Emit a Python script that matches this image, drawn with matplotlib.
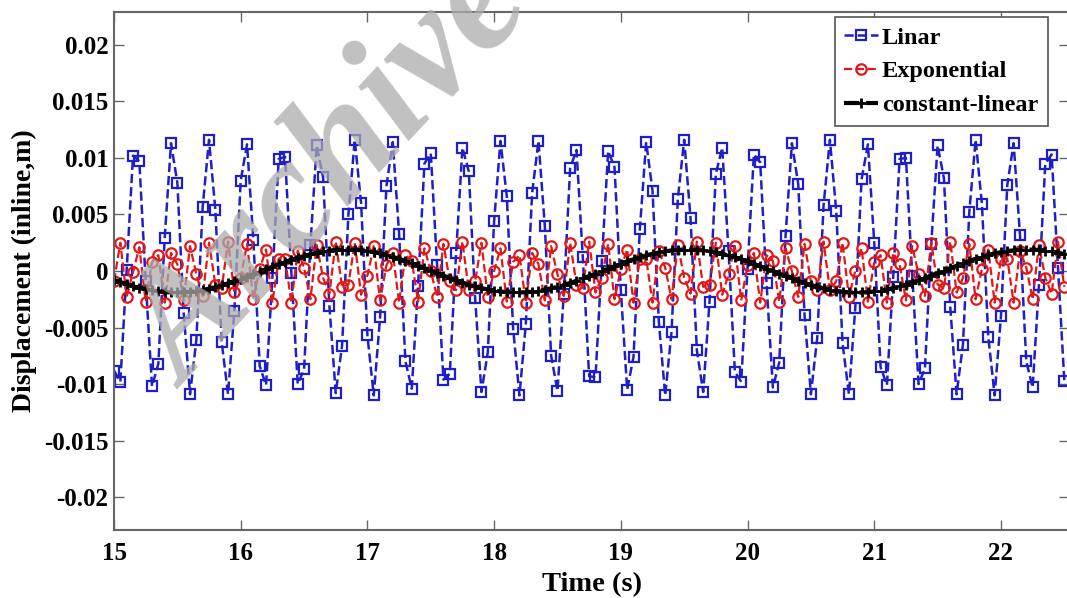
import matplotlib
matplotlib.use("Agg")
import matplotlib.pyplot as plt
import numpy as np

# sample times (s), one sample every 0.05 s from 15 s
t_start = 15.0
dt = 0.05

# Linar (blue), inline displacement (m)
linar = [
    -0.0088, -0.0098, 0.0001, 0.0102, 0.0097, -0.0009, -0.0102, -0.0082, 0.0029, 0.0113,
    0.0078, -0.0037, -0.0109, -0.0061, 0.0057, 0.0116, 0.0054, -0.0063, -0.0109, -0.0035,
    0.0080, 0.0112, 0.0027, -0.0084, -0.0101, -0.0006, 0.0099, 0.0101, -0.0002, -0.0100,
    -0.0087, 0.0023, 0.0111, 0.0083, -0.0031, -0.0108, -0.0066, 0.0050, 0.0116, 0.0060,
    -0.0057, -0.0110, -0.0041, 0.0075, 0.0114, 0.0033, -0.0080, -0.0104, -0.0013, 0.0095,
    0.0104, 0.0005, -0.0096, -0.0091, 0.0016, 0.0109, 0.0088, -0.0024, -0.0107, -0.0072,
    0.0044, 0.0115, 0.0066, -0.0051, -0.0110, -0.0047, 0.0069, 0.0115, 0.0040, -0.0075,
    -0.0106, -0.0020, 0.0091, 0.0107, 0.0012, -0.0093, -0.0094, 0.0009, 0.0106, 0.0092,
    -0.0017, -0.0105, -0.0076, 0.0037, 0.0114, 0.0071, -0.0045, -0.0110, -0.0054, 0.0064,
    0.0116, 0.0047, -0.0070, -0.0107, -0.0027, 0.0086, 0.0109, 0.0018, -0.0089, -0.0098,
    0.0002, 0.0103, 0.0096, -0.0011, -0.0103, -0.0081, 0.0031, 0.0113, 0.0077, -0.0039,
    -0.0109, -0.0059, 0.0058, 0.0116, 0.0053, -0.0064, -0.0109, -0.0033, 0.0081, 0.0112,
    0.0025, -0.0085, -0.0101, -0.0005, 0.0099, 0.0100, -0.0004, -0.0100, -0.0086, 0.0024,
    0.0111, 0.0082, -0.0032, -0.0109, -0.0065, 0.0052, 0.0116, 0.0059, -0.0058, -0.0110,
    -0.0040, 0.0076, 0.0113, 0.0032, -0.0080, -0.0103, -0.0012, 0.0095, 0.0103, 0.0003,
    -0.0097]

# Exponential (red)
expo = [
    -0.0009, 0.0025, -0.0023, -0.0001, 0.0021, -0.0027, 0.0008, 0.0014, -0.0028, 0.0016,
    0.0006, -0.0026, 0.0022, -0.0003, -0.0022, 0.0025, -0.0012, -0.0015, 0.0026, -0.0019,
    -0.0006, 0.0024, -0.0025, 0.0002, 0.0019, -0.0028, 0.0011, 0.0011, -0.0028, 0.0018,
    0.0003, -0.0025, 0.0023, -0.0006, -0.0020, 0.0026, -0.0014, -0.0012, 0.0025, -0.0021,
    -0.0004, 0.0022, -0.0026, 0.0005, 0.0016, -0.0028, 0.0014, 0.0009, -0.0027, 0.0020,
    0.0000, -0.0023, 0.0024, -0.0009, -0.0017, 0.0026, -0.0017, -0.0009, 0.0025, -0.0023,
    0.0000, 0.0020, -0.0027, 0.0008, 0.0014, -0.0028, 0.0016, 0.0006, -0.0026, 0.0022,
    -0.0003, -0.0022, 0.0025, -0.0012, -0.0015, 0.0026, -0.0019, -0.0006, 0.0024, -0.0025,
    0.0002, 0.0019, -0.0028, 0.0011, 0.0011, -0.0028, 0.0018, 0.0003, -0.0025, 0.0023,
    -0.0006, -0.0020, 0.0026, -0.0014, -0.0012, 0.0025, -0.0021, -0.0003, 0.0022, -0.0026,
    0.0005, 0.0016, -0.0028, 0.0014, 0.0009, -0.0027, 0.0020, 0.0000, -0.0023, 0.0024,
    -0.0009, -0.0017, 0.0026, -0.0017, -0.0009, 0.0025, -0.0023, 0.0000, 0.0020, -0.0027,
    0.0008, 0.0014, -0.0028, 0.0016, 0.0006, -0.0026, 0.0022, -0.0003, -0.0022, 0.0025,
    -0.0012, -0.0015, 0.0026, -0.0019, -0.0006, 0.0024, -0.0025, 0.0002, 0.0019, -0.0028,
    0.0011, 0.0011, -0.0028, 0.0018, 0.0003, -0.0025, 0.0023, -0.0006, -0.0020, 0.0026,
    -0.0014]

# constant-linear (black)
const_lin = [
    -0.00079, -0.00098, -0.00116, -0.00133, -0.00148, -0.00161, -0.00172, -0.00180, -0.00186, -0.00189,
    -0.00190, -0.00188, -0.00184, -0.00177, -0.00168, -0.00156, -0.00143, -0.00127, -0.00109, -0.00091,
    -0.00071, -0.00049, -0.00028, -0.00006, 0.00017, 0.00038, 0.00060, 0.00081, 0.00100, 0.00118,
    0.00135, 0.00149, 0.00162, 0.00173, 0.00181, 0.00186, 0.00189, 0.00190, 0.00188, 0.00183,
    0.00176, 0.00167, 0.00155, 0.00141, 0.00125, 0.00108, 0.00089, 0.00068, 0.00047, 0.00025,
    0.00003, -0.00019, -0.00040, -0.00062, -0.00083, -0.00102, -0.00120, -0.00136, -0.00151, -0.00163,
    -0.00173, -0.00181, -0.00187, -0.00190, -0.00190, -0.00188, -0.00183, -0.00175, -0.00165, -0.00153,
    -0.00139, -0.00124, -0.00106, -0.00087, -0.00066, -0.00045, -0.00023, -0.00001, 0.00021, 0.00043,
    0.00064, 0.00085, 0.00104, 0.00121, 0.00138, 0.00152, 0.00164, 0.00174, 0.00182, 0.00187,
    0.00190, 0.00190, 0.00187, 0.00182, 0.00174, 0.00164, 0.00152, 0.00138, 0.00121, 0.00104,
    0.00085, 0.00064, 0.00043, 0.00021, -0.00001, -0.00023, -0.00045, -0.00066, -0.00087, -0.00106,
    -0.00124, -0.00139, -0.00153, -0.00165, -0.00175, -0.00183, -0.00188, -0.00190, -0.00190, -0.00187,
    -0.00181, -0.00173, -0.00163, -0.00151, -0.00136, -0.00120, -0.00102, -0.00083, -0.00062, -0.00040,
    -0.00019, 0.00003, 0.00025, 0.00047, 0.00068, 0.00089, 0.00108, 0.00125, 0.00141, 0.00155,
    0.00167, 0.00176, 0.00183, 0.00188, 0.00190, 0.00189, 0.00186, 0.00181, 0.00173, 0.00162,
    0.00150]

x_ticks = [15, 16, 17, 18, 19, 20, 21, 22]
y_ticks = [-0.02, -0.015, -0.01, -0.005, 0, 0.005, 0.01, 0.015, 0.02]
y_ticklabels = ['-0.02', '-0.015', '-0.01', '-0.005', '0', '0.005', '0.01', '0.015', '0.02']

plt.rcParams['font.family'] = ['Liberation Serif', 'DejaVu Serif']
plt.rcParams['font.weight'] = 'bold'

time = t_start + dt * np.arange(len(linar))

fig = plt.figure(figsize=(10.67, 5.98), dpi=100)
ax = fig.add_axes([114/1067, 68/598, 955/1067, 518/598])

ax.plot(time, linar, '--', color='#1f1fc8', lw=1.8, marker='s', ms=7,
        mfc='none', mec='#1f1fc8', mew=1.6, label='Linar')
ax.plot(time, expo, '--', color='#e01818', lw=1.6, marker='o', ms=7.5,
        mfc='none', mec='#e01818', mew=1.6, label='Exponential')
ax.plot(time, const_lin, '--', color='black', lw=3.0, marker='+', ms=7,
        mew=2.0, label='constant-linear')

ax.set_xlim(15, 22.537)
ax.set_ylim(-0.0229, 0.0229)
ax.set_xticks(x_ticks)
ax.set_yticks(y_ticks)
ax.set_yticklabels(y_ticklabels)
ax.tick_params(direction='in', top=True, right=True, length=7, width=1,
               color='#666666', labelsize=18)
ax.tick_params(axis='x', pad=9)
ax.tick_params(axis='y', pad=4)
for lab in ax.get_xticklabels() + ax.get_yticklabels():
    lab.set_fontweight('bold')
for sp in ax.spines.values():
    sp.set_color('#666666')
    sp.set_linewidth(1.5)

ax.set_xlabel('Time (s)', fontsize=20.5, fontweight='bold', labelpad=5)
ax.set_ylabel('Displacement (inline,m)', fontsize=20, fontweight='bold', labelpad=5)

leg = ax.legend(loc='upper right', bbox_to_anchor=((1048 - 114)/955, 1 - 5/518),
                fontsize=17.5, handlelength=1.4, handletextpad=0.15,
                borderpad=0.4, borderaxespad=0, labelspacing=0.48,
                fancybox=False, framealpha=1)
leg.get_frame().set_edgecolor('#555555')
leg.get_frame().set_linewidth(1.2)

# watermark
fig.text(185/1067, 1 - 390/598, 'Archive of SID', rotation=47,
         rotation_mode='anchor', ha='left', va='baseline', fontsize=115,
         fontstyle='italic', fontweight='bold', color='#acacac', alpha=0.75,
         zorder=10)

fig.savefig('out.png', dpi=100)
